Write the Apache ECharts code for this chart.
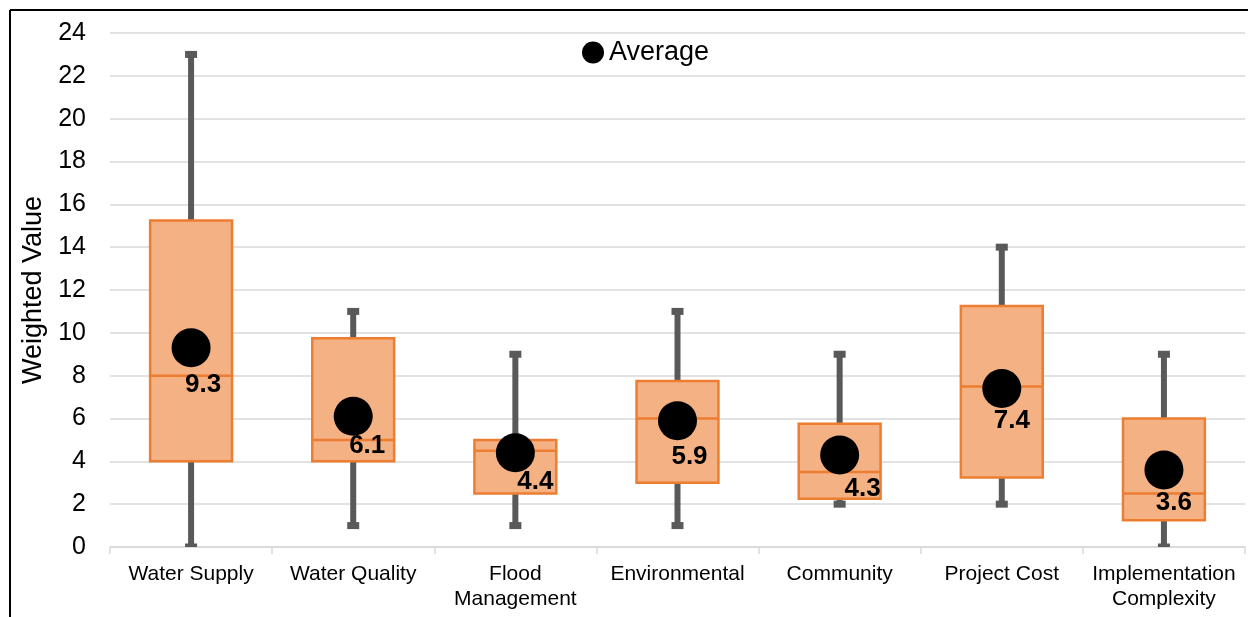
<!DOCTYPE html>
<html>
<head>
<meta charset="utf-8">
<script src="https://cdn.jsdelivr.net/npm/echarts@6/dist/echarts.min.js"></script>
<style>
  html, body { margin: 0; padding: 0; background: #fff; }
  #chart { width: 1248px; height: 617px; }
</style>
</head>
<body>
<div id="chart"></div>
<script>
const categories = ['Water Supply', 'Water Quality', 'Flood\nManagement', 'Environmental', 'Community', 'Project Cost', 'Implementation\nComplexity'];
const minValues = [0, 1, 1, 1, 2, 2, 0];
const q1Values = [4, 4, 2.5, 3, 2.25, 3.25, 1.25];
const medianValues = [8, 5, 4.5, 6, 3.5, 7.5, 2.5];
const q3Values = [15.25, 9.75, 5, 7.75, 5.75, 11.25, 6];
const maxValues = [23, 11, 9, 11, 9, 14, 9];
const averageValues = [9.3, 6.1, 4.4, 5.9, 4.3, 7.4, 3.6];
const yTicks = { min: 0, max: 24, interval: 2 };

// label placement (style only): offsets of each average label from its marker
const labelOffsets = [[12, 37], [14, 29], [20, 29], [12, 36], [23, 34], [10, 32], [10, 33]];

const FONT = '"Liberation Sans", Arial, sans-serif';
const boxData = categories.map((c, i) => [i, minValues[i], q1Values[i], medianValues[i], q3Values[i], maxValues[i]]);

const chart = echarts.init(document.getElementById('chart'));
chart.setOption({
  animation: false,
  backgroundColor: '#fff',
  textStyle: { fontFamily: FONT },
  graphic: [
    { type: 'line', shape: { x1: 10, y1: 10, x2: 1248, y2: 10 }, style: { stroke: '#000', lineWidth: 2 }, z: 100 },
    { type: 'line', shape: { x1: 10, y1: 10, x2: 10, y2: 617 }, style: { stroke: '#000', lineWidth: 2 }, z: 100 }
  ],
  legend: {
    data: ['Average'],
    left: 577,
    top: 34,
    icon: 'circle',
    itemWidth: 22,
    itemHeight: 22,
    itemGap: 10,
    itemStyle: { opacity: 1 },
    textStyle: { fontSize: 27, color: '#000', fontFamily: FONT }
  },
  grid: { left: 110, right: 3, top: 33, bottom: 70 },
  xAxis: {
    type: 'category',
    data: categories,
    boundaryGap: true,
    axisLine: { lineStyle: { color: '#D9D9D9', width: 1.5 } },
    axisTick: { show: true, length: 7, lineStyle: { color: '#D9D9D9', width: 1.5 } },
    axisLabel: { fontSize: 21, color: '#000', fontFamily: FONT, margin: 15, lineHeight: 25, interval: 0 }
  },
  yAxis: {
    type: 'value',
    min: yTicks.min,
    max: yTicks.max,
    interval: yTicks.interval,
    name: 'Weighted Value',
    nameLocation: 'middle',
    nameRotate: 90,
    nameGap: 58,
    nameTextStyle: { fontSize: 27, color: '#000', fontFamily: FONT },
    axisLine: { show: false },
    axisTick: { show: false },
    axisLabel: { fontSize: 25, color: '#000', fontFamily: FONT, margin: 24 },
    splitLine: { lineStyle: { color: '#D9D9D9', width: 1.5 } }
  },
  series: [
    {
      name: 'Box',
      type: 'custom',
      clip: true,
      encode: { x: 0, y: [1, 2, 3, 4, 5] },
      data: boxData,
      renderItem: function (params, api) {
        const idx = api.value(0);
        const pMin = api.coord([idx, api.value(1)]);
        const pQ1 = api.coord([idx, api.value(2)]);
        const pMed = api.coord([idx, api.value(3)]);
        const pQ3 = api.coord([idx, api.value(4)]);
        const pMax = api.coord([idx, api.value(5)]);
        const cx = pMin[0];
        const bw = api.size([1, 0])[0] * 0.505;
        const ww = 6, cw = 12, ch = 7;
        const gray = '#595959';
        const children = [
          { type: 'rect', shape: { x: cx - ww / 2, y: pMax[1], width: ww, height: pQ3[1] - pMax[1] }, style: { fill: gray } },
          { type: 'rect', shape: { x: cx - ww / 2, y: pQ1[1], width: ww, height: pMin[1] - pQ1[1] }, style: { fill: gray } },
          { type: 'rect', shape: { x: cx - cw / 2, y: pMax[1] - ch / 2, width: cw, height: ch }, style: { fill: gray } },
          { type: 'rect', shape: { x: cx - cw / 2, y: pMin[1] - ch / 2, width: cw, height: ch }, style: { fill: gray } },
          { type: 'rect', shape: { x: cx - bw / 2, y: pQ3[1], width: bw, height: pQ1[1] - pQ3[1] }, style: { fill: '#F4B183', stroke: '#ED7D31', lineWidth: 2.5 } },
          { type: 'line', shape: { x1: cx - bw / 2, y1: pMed[1], x2: cx + bw / 2, y2: pMed[1] }, style: { stroke: '#ED7D31', lineWidth: 2.5 } }
        ];
        return { type: 'group', children: children };
      },
      z: 2
    },
    {
      name: 'Average',
      type: 'scatter',
      data: averageValues.map((v, i) => ({
        value: [i, v],
        label: { offset: labelOffsets[i] }
      })),
      symbol: 'circle',
      symbolSize: 39,
      itemStyle: { color: '#000', opacity: 1 },
      label: {
        show: true,
        position: 'inside',
        formatter: function (p) { return p.value[1].toFixed(1); },
        fontSize: 26,
        fontWeight: 'bold',
        color: '#000',
        fontFamily: FONT
      },
      emphasis: { disabled: true },
      z: 5
    }
  ]
});
</script>
</body>
</html>
